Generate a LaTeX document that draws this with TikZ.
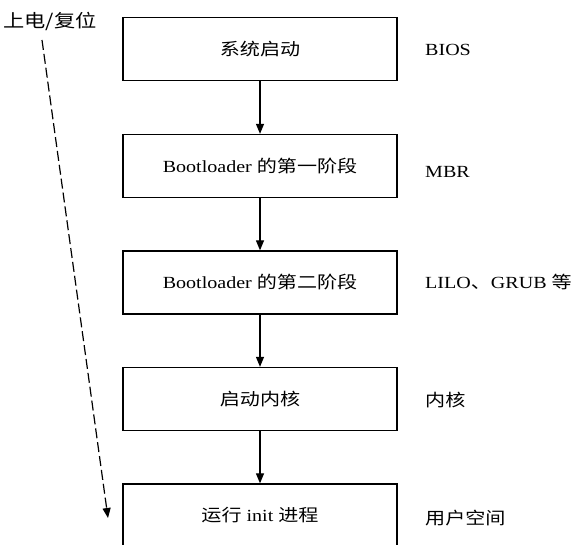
\documentclass[tikz,border=0pt]{standalone}
\usepackage{fontspec}
\usepackage{graphicx}
\setmainfont{Liberation Serif}
\newfontfamily\cjk{Noto Sans CJK SC}
\usetikzlibrary{arrows.meta}
\newcommand{\wide}[1]{\scalebox{1.18}[1]{#1}}
\tikzset{
  stagebox/.style={draw, line width=1.3pt, minimum width=274pt, minimum height=63pt, inner sep=0pt,
    font=\fontsize{17}{19}\selectfont},
  sidelabel/.style={anchor=west, inner sep=0pt, font=\fontsize{17}{19}\selectfont},
  flow/.style={line width=1.2pt, -{Triangle[length=10pt,width=8pt]}},
  resetline/.style={line width=1.2pt, dash pattern=on 10pt off 4pt, -{Triangle[length=10pt,width=8pt]}}
}
\begin{document}
\begin{tikzpicture}[x=1pt,y=-1pt]
\useasboundingbox (0,0) rectangle (581,545);
\node[stagebox] (b1) at (260,49) {\wide{\cjk 系统启动}};
\node[stagebox] (b2) at (260,166) {\wide{Bootloader {\cjk 的第一阶段}}};
\node[stagebox] (b3) at (260,282.5) {\wide{Bootloader {\cjk 的第二阶段}}};
\node[stagebox] (b4) at (260,399) {\wide{\cjk 启动内核}};
\node[stagebox] (b5) at (260,515.5) {\wide{{\cjk 运行} init {\cjk 进程}}};
\node[sidelabel] (l1) at (425,50) {\wide{BIOS}};
\node[sidelabel] (l2) at (425,172) {\wide{MBR}};
\node[sidelabel] (l3) at (425,282) {\wide{LILO{\cjk 、}GRUB {\cjk 等}}};
\node[sidelabel] (l4) at (425,400) {\wide{\cjk 内核}};
\node[sidelabel] (l5) at (425,518) {\wide{\cjk 用户空间}};
\node[sidelabel, font=\fontsize{18}{20}\selectfont] (pw) at (3,21) {\wide{\cjk 上电/复位}};
\coordinate (ds) at (42,40);
\coordinate (de) at (108,518);
\draw[flow] (b1) -- (b2);
\draw[flow] (b2) -- (b3);
\draw[flow] (b3) -- (b4);
\draw[flow] (b4) -- (b5);
\draw[resetline] (ds) -- (de);
\end{tikzpicture}
\end{document}
